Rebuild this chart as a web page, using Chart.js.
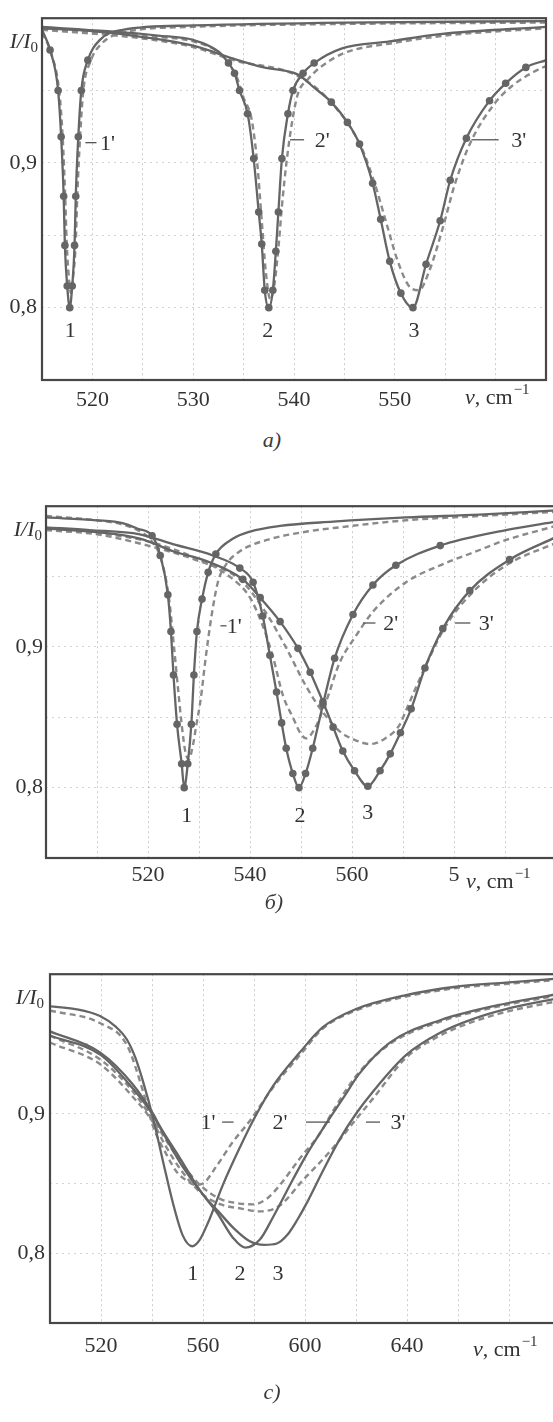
<!DOCTYPE html>
<html><head><meta charset="utf-8">
<script src="https://cdn.jsdelivr.net/npm/chart.js@4.4.1/dist/chart.umd.min.js"></script>
<style>
html,body{margin:0;padding:0;background:#fff;width:553px;height:1422px;overflow:hidden;}
.panel{position:absolute;left:0;}
.cap{position:absolute;font:italic 22px "Liberation Serif",serif;color:#3a3a3a;transform:translate(-50%,-50%);}
</style></head><body>
<div class="panel" style="top:0px"><canvas id="ca" width="553" height="425"></canvas></div>
<div class="panel" style="top:490px"><canvas id="cb" width="570" height="410"></canvas></div>
<div class="panel" style="top:956px"><canvas id="cc" width="580" height="412"></canvas></div>
<div class="cap" style="left:272px;top:440px">a)</div>
<div class="cap" style="left:274px;top:902px">б)</div>
<div class="cap" style="left:272px;top:1392px">c)</div>
<script>
// ---------- Panel a ----------
const aTickVals = [520, 530, 540, 550];
const aTickText = ['520', '530', '540', '550'];
const a1X = [515, 515.8, 516.6, 516.9, 517.15, 517.27, 517.5, 517.75, 518.0, 518.23, 518.35, 518.6, 518.9, 519.55, 520.75, 523, 530, 545, 565];
const a1Y = [0.992, 0.978, 0.950, 0.918, 0.877, 0.843, 0.815, 0.800, 0.815, 0.843, 0.877, 0.918, 0.950, 0.971, 0.985, 0.992, 0.995, 0.997, 0.998];
const a1dX = [515, 515.9, 516.7, 517.05, 517.3, 517.45, 517.65, 517.87, 518.1, 518.35, 518.5, 518.78, 519.1, 519.8, 521, 523, 530, 545, 565];
const a1dY = [0.990, 0.976, 0.950, 0.918, 0.877, 0.845, 0.822, 0.810, 0.822, 0.845, 0.877, 0.918, 0.950, 0.970, 0.983, 0.990, 0.994, 0.996, 0.997];
const a2X = [515, 521.5, 526.5, 530, 532.5, 533.5, 534.1, 534.6, 535.4, 536.0, 536.5, 536.8, 537.1, 537.5, 537.9, 538.2, 538.45, 538.8, 539.4, 539.9, 540.9, 542, 544.7, 549.5, 554.5, 565];
const a2Y = [0.994, 0.991, 0.988, 0.985, 0.977, 0.969, 0.962, 0.950, 0.934, 0.903, 0.866, 0.844, 0.812, 0.800, 0.812, 0.839, 0.866, 0.903, 0.934, 0.950, 0.962, 0.969, 0.979, 0.984, 0.989, 0.994];
const a2dX = [515, 526.5, 530, 532.6, 533.6, 534.4, 535.0, 535.8, 536.35, 536.8, 537.2, 537.65, 538.1, 538.5, 538.8, 539.25, 539.85, 540.4, 541.4, 542.6, 545, 550, 555, 565];
const a2dY = [0.993, 0.987, 0.984, 0.976, 0.968, 0.958, 0.945, 0.930, 0.900, 0.860, 0.825, 0.806, 0.818, 0.845, 0.870, 0.900, 0.930, 0.948, 0.958, 0.966, 0.976, 0.983, 0.988, 0.993];
const a3X = [515, 520, 525, 530, 534, 537, 540.4, 542, 543.7, 545.3, 546.5, 547.8, 548.6, 549.5, 550.6, 551.8, 553.1, 554.5, 555.5, 557.1, 559.4, 561, 563, 565];
const a3Y = [0.993, 0.991, 0.987, 0.981, 0.972, 0.966, 0.961, 0.952, 0.942, 0.928, 0.913, 0.886, 0.861, 0.832, 0.810, 0.800, 0.830, 0.860, 0.888, 0.917, 0.943, 0.955, 0.966, 0.971];
const a3dX = [515, 525, 530, 534, 540.4, 543.8, 546.6, 548.0, 549.1, 550.3, 551.4, 552.4, 553.4, 554.8, 555.9, 557.5, 559.9, 561.6, 563.8, 565];
const a3dY = [0.992, 0.986, 0.980, 0.971, 0.960, 0.941, 0.912, 0.886, 0.860, 0.832, 0.815, 0.812, 0.825, 0.856, 0.884, 0.914, 0.941, 0.953, 0.963, 0.967];
const aDots = [[515.5, 520], [533, 542.5], [543, 564]];
const aLabText = ['1', '2', '3', "1'", "2'", "3'"];
const aLabX = [517.8, 537.4, 551.9, 521.5, 542.8, 562.3];
const aLabY = [0.784, 0.784, 0.784, 0.913, 0.915, 0.915];
const aLeadX1 = [519.3, 539.6, 557.6];
const aLeadX2 = [520.4, 541.0, 560.3];
const aLeadY = [0.914, 0.916, 0.916];

// ---------- Panel б ----------
const bTickVals = [520, 540, 560, 580];
const bTickText = ['520', '540', '560', '5'];
const b1X = [500, 510, 515, 518, 520.8, 522.4, 523.9, 524.5, 525.0, 525.7, 526.6, 527.1, 527.8, 528.5, 529.0, 529.6, 530.6, 531.8, 533.3, 536.7, 540, 545.9, 556.3, 570.6, 585, 600];
const b1Y = [0.992, 0.990, 0.988, 0.984, 0.979, 0.965, 0.937, 0.911, 0.880, 0.845, 0.817, 0.800, 0.817, 0.845, 0.880, 0.911, 0.934, 0.953, 0.966, 0.977, 0.982, 0.986, 0.989, 0.992, 0.994, 0.997];
const b1dX = [500, 510, 515, 518, 520.5, 522.6, 524.1, 525.1, 525.9, 526.6, 527.3, 528.0, 528.8, 529.5, 530.3, 531.3, 532.5, 533.7, 535.2, 538, 543.3, 551.2, 557.6, 570.6, 585, 600];
const b1dY = [0.993, 0.990, 0.987, 0.983, 0.976, 0.962, 0.935, 0.900, 0.870, 0.845, 0.826, 0.820, 0.830, 0.845, 0.862, 0.892, 0.923, 0.946, 0.958, 0.968, 0.976, 0.982, 0.985, 0.990, 0.993, 0.996];
const b2X = [500, 508.6, 518.4, 524.9, 532.7, 538, 540.6, 542.5, 543.9, 545.2, 546.2, 547.1, 548.4, 549.6, 550.9, 552.3, 554.3, 556.6, 560.2, 564.1, 568.6, 577.3, 590.2, 600];
const b2Y = [0.985, 0.983, 0.980, 0.973, 0.965, 0.956, 0.946, 0.922, 0.894, 0.868, 0.846, 0.828, 0.810, 0.800, 0.810, 0.828, 0.859, 0.892, 0.923, 0.944, 0.958, 0.972, 0.983, 0.989];
const b2dX = [500, 510, 520, 530, 536, 540, 542.5, 544.5, 546.5, 548.4, 550, 551, 552.7, 554.9, 557.6, 560.8, 564.1, 570.6, 577.3, 583.7, 590.2, 600];
const b2dY = [0.984, 0.981, 0.975, 0.962, 0.950, 0.935, 0.915, 0.893, 0.865, 0.850, 0.838, 0.835, 0.842, 0.861, 0.889, 0.908, 0.925, 0.946, 0.958, 0.967, 0.976, 0.986];
const b3X = [500, 508.6, 518.4, 524.9, 531.5, 538.6, 542, 545.9, 549.4, 551.8, 554.3, 556.3, 558.2, 560.5, 563.1, 565.5, 567.5, 569.5, 571.6, 574.3, 577.8, 583.1, 590.9, 600];
const b3Y = [0.984, 0.982, 0.977, 0.968, 0.961, 0.948, 0.935, 0.918, 0.899, 0.882, 0.861, 0.843, 0.826, 0.812, 0.801, 0.812, 0.824, 0.839, 0.856, 0.885, 0.913, 0.940, 0.962, 0.978];
const b3dX = [500, 510, 520, 530, 538, 543, 547, 551, 554, 557.6, 560.5, 563.5, 566.5, 569.4, 570.6, 574.5, 578.4, 583.7, 590.2, 600];
const b3dY = [0.983, 0.980, 0.972, 0.961, 0.948, 0.925, 0.900, 0.872, 0.855, 0.840, 0.834, 0.831, 0.835, 0.845, 0.855, 0.887, 0.915, 0.939, 0.958, 0.974];
const bDots = [[520.5, 534], [538, 578], [538, 591]];
const bLabText = ['1', '2', '3', "1'", "2'", "3'"];
const bLabX = [527.6, 549.8, 563.1, 536.9, 567.6, 586.3];
const bLabY = [0.780, 0.780, 0.782, 0.914, 0.916, 0.916];
const bLeadX1 = [534.2, 562.2, 580.2];
const bLeadX2 = [535.4, 564.6, 583.2];
const bLeadY = [0.915, 0.917, 0.917];

// ---------- Panel c ----------
const cTickVals = [520, 560, 600, 640];
const cTickText = ['520', '560', '600', '640'];
const c1X = [500, 510, 519.6, 526, 530.2, 533.5, 536.5, 540.4, 544.3, 548.2, 552, 555.8, 558.5, 562, 567.8, 574.5, 579.6, 587.5, 598, 607, 620, 639.6, 659.2, 678.8, 700];
const c1Y = [0.977, 0.975, 0.970, 0.962, 0.953, 0.940, 0.923, 0.897, 0.866, 0.836, 0.813, 0.805, 0.809, 0.822, 0.849, 0.876, 0.895, 0.920, 0.944, 0.962, 0.975, 0.985, 0.991, 0.994, 0.997];
const c1dX = [500, 519.6, 530.2, 536.5, 540.4, 545.9, 549.8, 553.7, 557, 560, 565.5, 571.8, 578.4, 587.5, 598, 607, 620, 639.6, 659.2, 678.8, 700];
const c1dY = [0.974, 0.965, 0.949, 0.916, 0.891, 0.870, 0.858, 0.852, 0.849, 0.850, 0.863, 0.880, 0.895, 0.919, 0.942, 0.961, 0.974, 0.984, 0.990, 0.993, 0.996];
const c2X = [500, 519.6, 532.5, 540.4, 543.1, 551, 558.8, 565.5, 571.8, 576.5, 582.4, 587.5, 595.3, 600.4, 605.5, 610.5, 616, 621, 633.3, 653, 678.8, 700];
const c2Y = [0.959, 0.944, 0.921, 0.900, 0.891, 0.868, 0.845, 0.829, 0.811, 0.804, 0.810, 0.826, 0.853, 0.870, 0.885, 0.899, 0.914, 0.928, 0.951, 0.967, 0.979, 0.986];
const c2dX = [500, 519.6, 532.5, 542, 551, 558.8, 566.7, 573, 579.6, 585, 590.2, 598, 605.9, 611, 620, 633.3, 653, 678.8, 700];
const c2dY = [0.956, 0.939, 0.916, 0.891, 0.866, 0.849, 0.839, 0.836, 0.835, 0.839, 0.849, 0.868, 0.886, 0.902, 0.927, 0.950, 0.966, 0.978, 0.985];
const c3X = [500, 520, 532.5, 540, 545, 552, 560, 566, 572, 578, 584, 589, 593, 597, 600.4, 607, 613.7, 620, 626.7, 639.6, 653, 666, 678.8, 700];
const c3Y = [0.956, 0.942, 0.918, 0.900, 0.884, 0.862, 0.842, 0.830, 0.818, 0.809, 0.806, 0.807, 0.813, 0.824, 0.835, 0.859, 0.882, 0.900, 0.916, 0.942, 0.958, 0.968, 0.975, 0.983];
const c3dX = [500, 520, 532.5, 540, 545, 552, 560, 567, 575, 582, 590, 599, 609.8, 620, 626.7, 639.6, 653, 666, 678.8, 700];
const c3dY = [0.951, 0.935, 0.912, 0.895, 0.878, 0.858, 0.842, 0.835, 0.832, 0.830, 0.834, 0.852, 0.873, 0.896, 0.911, 0.940, 0.956, 0.966, 0.973, 0.981];
const cDots = [null, null, null];
const cLabText = ['1', '2', '3', "1'", "2'", "3'"];
const cLabX = [556, 574.5, 589.4, 562, 590.2, 636.5];
const cLabY = [0.785, 0.785, 0.785, 0.893, 0.893, 0.893];
const cLeadX1 = [567.5, 600.4, 623.9];
const cLeadX2 = [572.0, 609.8, 629.4];
const cLeadY = [0.894, 0.894, 0.894];

const yTickVals = [0.8, 0.9];
const yTickText = ['0,8', '0,9'];

// ---------- drawing ----------
const LINE = '#656565', DASH = '#8a8a8a', TXT = '#333';
const SERIF = '"Liberation Serif", "DejaVu Serif", serif';
function pts(X, Y) { return X.map((x, i) => ({x: x, y: Y[i]})); }
function solid(X, Y, rng) {
  return {data: pts(X, Y), borderColor: LINE, borderWidth: 2.3, cubicInterpolationMode: 'monotone',
    pointRadius: c => (rng && c.raw && c.raw.x >= rng[0] && c.raw.x <= rng[1]) ? 3.8 : 0,
    pointBackgroundColor: LINE, pointBorderWidth: 0, pointHoverRadius: 0};
}
function dashed(X, Y) {
  return {data: pts(X, Y), borderColor: DASH, borderWidth: 2.4, borderDash: [6, 4], cubicInterpolationMode: 'monotone', pointRadius: 0};
}
function near(v, arr) { for (let i = 0; i < arr.length; i++) if (Math.abs(v - arr[i]) < 1e-6) return i; return -1; }

const annot = {
  id: 'annot',
  afterDraw(chart, args, o) {
    const {ctx, chartArea: a, scales: {x, y}} = chart;
    ctx.save();
    ctx.strokeStyle = '#474747'; ctx.lineWidth = 2.2; ctx.setLineDash([]);
    ctx.strokeRect(a.left, a.top, a.right - a.left, a.bottom - a.top);
    ctx.fillStyle = TXT; ctx.textAlign = 'center'; ctx.textBaseline = 'middle';
    ctx.font = '22px ' + SERIF;
    o.labText.forEach((t, i) => ctx.fillText(t, x.getPixelForValue(o.labX[i]), y.getPixelForValue(o.labY[i])));
    ctx.strokeStyle = '#555'; ctx.lineWidth = 1.3;
    o.leadX1.forEach((v, i) => {
      const py = y.getPixelForValue(o.leadY[i]);
      ctx.beginPath(); ctx.moveTo(x.getPixelForValue(v), py); ctx.lineTo(x.getPixelForValue(o.leadX2[i]), py); ctx.stroke();
    });
    // I/I0
    ctx.textAlign = 'left'; ctx.textBaseline = 'alphabetic';
    ctx.font = 'italic 22px ' + SERIF;
    const w1 = ctx.measureText('I/I').width;
    ctx.font = '15px ' + SERIF;
    const w2 = ctx.measureText('0').width;
    const px = a.left - o.iGap - w1 - w2, py = y.getPixelForValue(0.984) + 7;
    ctx.font = 'italic 22px ' + SERIF; ctx.fillText('I/I', px, py);
    ctx.font = '15px ' + SERIF; ctx.fillText('0', px + w1, py + 4);
    // nu, cm^-1
    let nx = a.right - o.nuDx; const ny = a.bottom + o.nuDy;
    ctx.font = 'italic 22px ' + SERIF; ctx.fillText('ν', nx, ny); nx += ctx.measureText('ν').width;
    ctx.font = '22px ' + SERIF; ctx.fillText(', cm', nx, ny); nx += ctx.measureText(', cm').width;
    ctx.font = '15px ' + SERIF; ctx.fillText('−1', nx + 1, ny - 10);
    ctx.restore();
  }
};

function makeChart(id, cfg) {
  const el = document.getElementById(id);
  new Chart(el, {
    type: 'line',
    data: {datasets: cfg.datasets},
    options: {
      responsive: false, animation: false, parsing: true,
      layout: {padding: {left: 0, top: 13, right: el.width - cfg.right, bottom: 0}},
      plugins: {legend: {display: false}, tooltip: {enabled: false}, annot: cfg.annot},
      scales: {
        x: {type: 'linear', min: cfg.xmin, max: cfg.xmax,
          afterFit: s => { s.height = el.height - cfg.bottom; },
          afterBuildTicks: s => { const t = []; for (let v = cfg.xmin; v <= cfg.xmax + 1e-9; v += cfg.xstep) t.push({value: v}); s.ticks = t; },
          ticks: {autoSkip: false, maxRotation: 0, padding: cfg.xpad, color: TXT, font: {family: SERIF, size: 22},
            callback: v => { const i = near(v, cfg.tickVals); return i >= 0 ? cfg.tickText[i] : ''; }},
          grid: {color: 'rgba(120,120,120,0.38)', lineWidth: 1, drawTicks: false},
          border: {display: false, dash: [2, 3]}},
        y: {type: 'linear', min: 0.75, max: 1.0,
          afterFit: s => { s.width = cfg.left; },
          afterBuildTicks: s => { const t = []; for (let k = 0; k <= 5; k++) t.push({value: 0.75 + k * 0.05}); s.ticks = t; },
          ticks: {padding: cfg.ypad, color: TXT, font: {family: SERIF, size: 22},
            callback: v => { const i = near(v, yTickVals); return i >= 0 ? yTickText[i] : ''; }},
          grid: {color: 'rgba(120,120,120,0.32)', lineWidth: 1, drawTicks: false},
          border: {display: false, dash: [2, 4]}}
      }
    },
    plugins: [annot]
  });
}

makeChart('ca', {
  left: 42, right: 546, bottom: 380, xmin: 515, xmax: 565, xstep: 5, xpad: 7, ypad: 5,
  tickVals: aTickVals, tickText: aTickText,
  datasets: [solid(a1X, a1Y, aDots[0]), solid(a2X, a2Y, aDots[1]), solid(a3X, a3Y, aDots[2]),
    dashed(a1dX, a1dY), dashed(a2dX, a2dY), dashed(a3dX, a3dY)],
  annot: {labText: aLabText, labX: aLabX, labY: aLabY, leadX1: aLeadX1, leadX2: aLeadX2, leadY: aLeadY, iGap: 4, nuDx: 81, nuDy: 24}
});
makeChart('cb', {
  left: 46, right: 556, bottom: 368, xmin: 500, xmax: 600, xstep: 10, xpad: 4, ypad: 3,
  tickVals: bTickVals, tickText: bTickText,
  datasets: [solid(b1X, b1Y, bDots[0]), solid(b2X, b2Y, bDots[1]), solid(b3X, b3Y, bDots[2]),
    dashed(b1dX, b1dY), dashed(b2dX, b2dY), dashed(b3dX, b3dY)],
  annot: {labText: bLabText, labX: bLabX, labY: bLabY, leadX1: bLeadX1, leadX2: bLeadX2, leadY: bLeadY, iGap: 4, nuDx: 90, nuDy: 30}
});
makeChart('cc', {
  left: 50, right: 560, bottom: 367, xmin: 500, xmax: 700, xstep: 20, xpad: 10, ypad: 5,
  tickVals: cTickVals, tickText: cTickText,
  datasets: [solid(c1X, c1Y, cDots[0]), solid(c2X, c2Y, cDots[1]), solid(c3X, c3Y, cDots[2]),
    dashed(c1dX, c1dY), dashed(c2dX, c2dY), dashed(c3dX, c3dY)],
  annot: {labText: cLabText, labX: cLabX, labY: cLabY, leadX1: cLeadX1, leadX2: cLeadX2, leadY: cLeadY, iGap: 6, nuDx: 87, nuDy: 33}
});
</script>
</body></html>
